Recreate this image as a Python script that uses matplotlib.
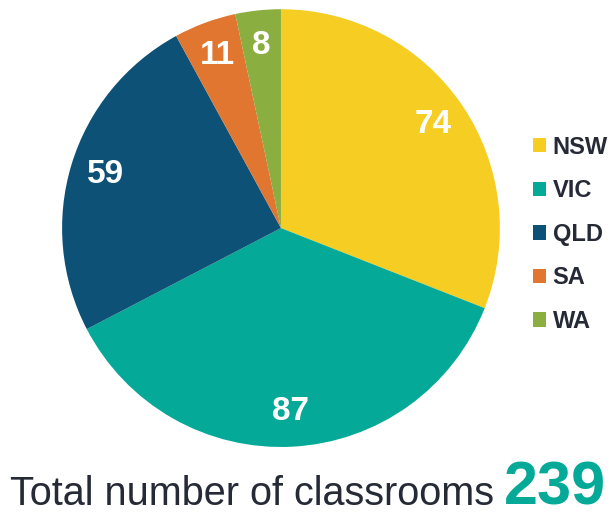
import matplotlib
matplotlib.use('Agg')
import matplotlib.pyplot as plt
from matplotlib.patches import Patch

plt.rcParams['font.family'] = ['Liberation Sans', 'DejaVu Sans']

states = ['NSW', 'VIC', 'QLD', 'SA', 'WA']
classrooms = [74, 87, 59, 11, 8]
colours = ['#F5CD23', '#04A997', '#0E5176', '#E07630', '#8AAE3F']
total_label = 'Total number of classrooms'
dark = '#252A36'

fig = plt.figure(figsize=(6.10, 5.12), dpi=100)
ax = fig.add_axes([0.1016, 0.127, 0.718, 0.855])

wedges, texts, autotexts = ax.pie(classrooms, colors=colours, startangle=90,
                                  counterclock=False, autopct='%d',
                                  pctdistance=0.84,
                                  wedgeprops=dict(linewidth=0))
for t, v in zip(autotexts, classrooms):
    t.set_text(str(v))
    t.set_color('white')
    t.set_fontsize(24)
    t.set_fontweight('bold')
ax.set_aspect('equal')
ax.set_xlim(-1, 1)
ax.set_ylim(-1, 1)

handles = [Patch(facecolor=c, edgecolor='none') for c in colours]
leg = fig.legend(handles, states, loc='upper left', bbox_to_anchor=(0.874, 0.735),
                 frameon=False, handlelength=0.55, handleheight=0.55,
                 handletextpad=0.28, labelspacing=0.87, borderaxespad=0,
                 borderpad=0, prop=dict(size=17, weight='bold'))
for t in leg.get_texts():
    t.set_color(dark)

fig.text(0.016, 0.014, total_label, fontsize=28.5, color=dark, ha='left', va='baseline')
fig.text(0.993, 0.014, str(sum(classrooms)), fontsize=44, fontweight='bold',
         color='#04A997', ha='right', va='baseline')

fig.savefig('out.png', dpi=100)
